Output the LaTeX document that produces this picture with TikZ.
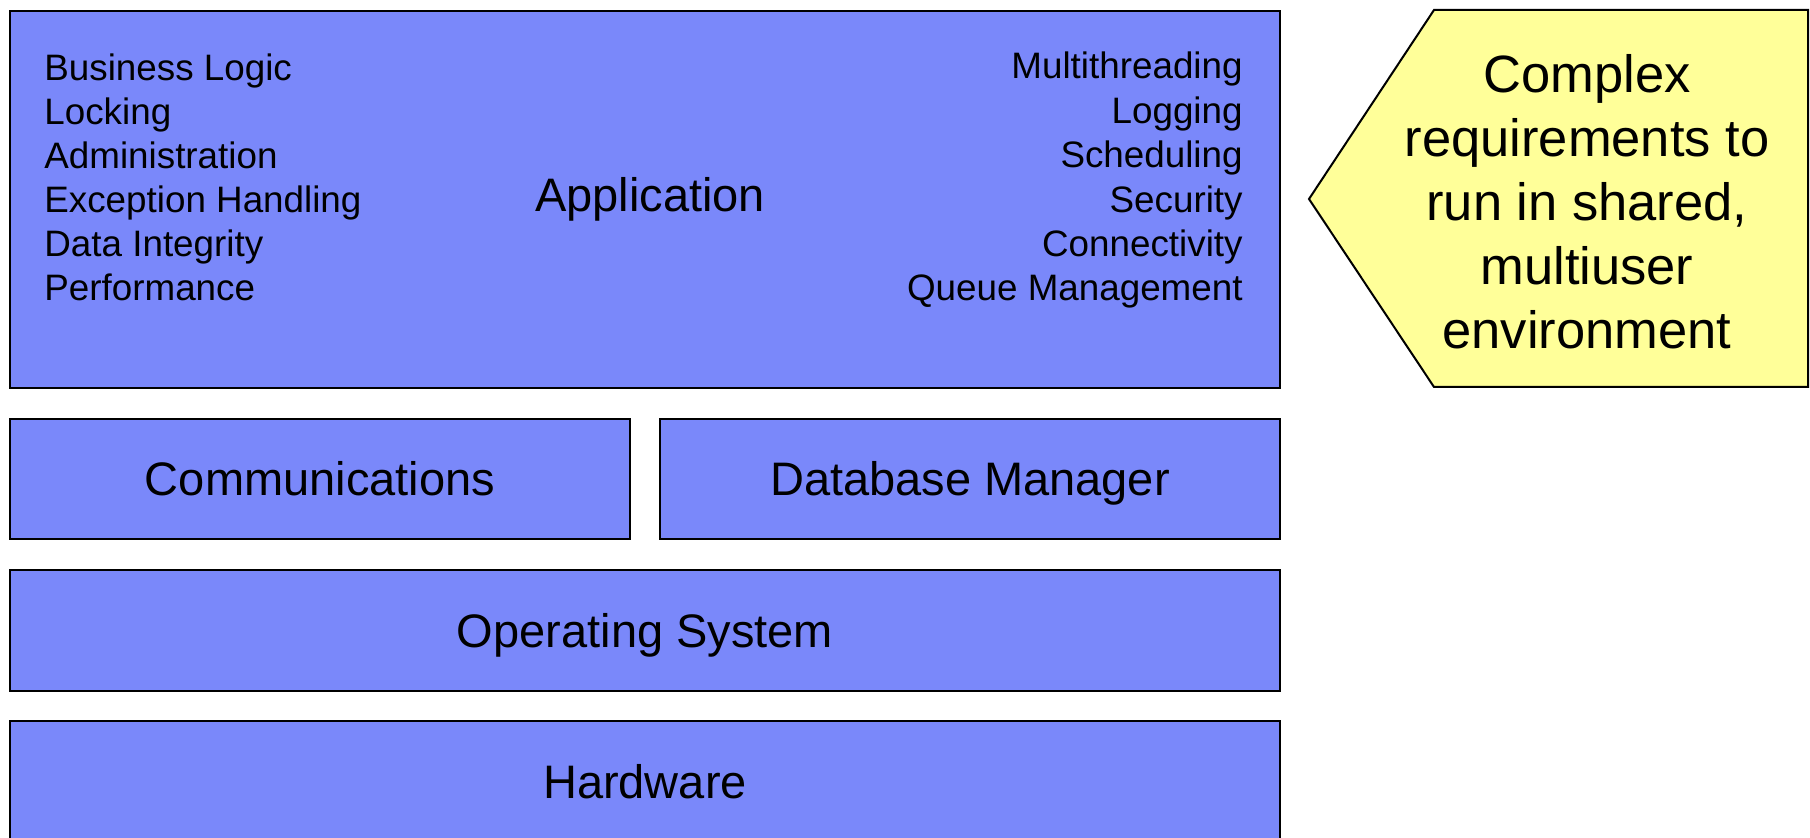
\documentclass[tikz,border=0pt]{standalone}
\usepackage{fontspec}
\setmainfont{Liberation Sans}
\definecolor{layerblue}{RGB}{122,136,250}
\definecolor{noteyellow}{RGB}{255,255,153}
\tikzset{
  layer/.style={draw=black, fill=layerblue, line width=1pt, anchor=north west, inner sep=0pt,
    font=\fontsize{23.5}{28}\selectfont, text height=16.8pt, text depth=0pt},
  biglabel/.style={font=\fontsize{23.5}{28}\selectfont, inner sep=0pt, text height=16.8pt, text depth=0pt},
  smalltxt/.style={font=\fontsize{18.4}{22}\selectfont, inner sep=0pt},
  callout/.style={draw=black, fill=noteyellow, line width=1pt, line join=miter},
  callouttext/.style={font=\fontsize{26.25}{32}\selectfont, align=center, inner sep=0pt}
}
\begin{document}
\begin{tikzpicture}[x=0.5pt,y=-0.5pt]
\useasboundingbox (0,0) rectangle (1810,838);
\begin{scope}
\clip (0,0) rectangle (1810,838);
% layer boxes
\node[layer, minimum width=635pt, minimum height=188.5pt] (app) at (9,10) {};
\node[layer, minimum width=310pt, minimum height=60pt] (comm) at (9,418) {Communications};
\node[layer, minimum width=310pt, minimum height=60pt] (db) at (659,418) {Database Manager};
\node[layer, minimum width=635pt, minimum height=60.5pt] (os) at (9,569) {Operating System};
\node[layer, minimum width=635pt, minimum height=60.5pt] (hw) at (9,720) {Hardware};
\end{scope}
% application title
\node[biglabel] (apptitle) at (650,194.5) {Application};
% left list
\foreach \t [count=\i from 0] in {Business Logic,Locking,Administration,Exception Handling,Data Integrity,Performance}
  \node[smalltxt, anchor=base west] (l\i) at (44,80.5+44.1*\i) {\t};
% right list
\foreach \t [count=\i from 0] in {Multithreading,Logging,Scheduling,Security,Connectivity,Queue Management}
  \node[smalltxt, anchor=base east] (r\i) at (1243,79+44.4*\i) {\t};
% callout pentagon
\draw[callout] (1309,199) -- (1434,10) -- (1808,10) -- (1808,387) -- (1434,387) -- cycle;
\node[callouttext] (note) at (1587,201.6) {Complex\\requirements to\\run in shared,\\multiuser\\environment};
\end{tikzpicture}
\end{document}
